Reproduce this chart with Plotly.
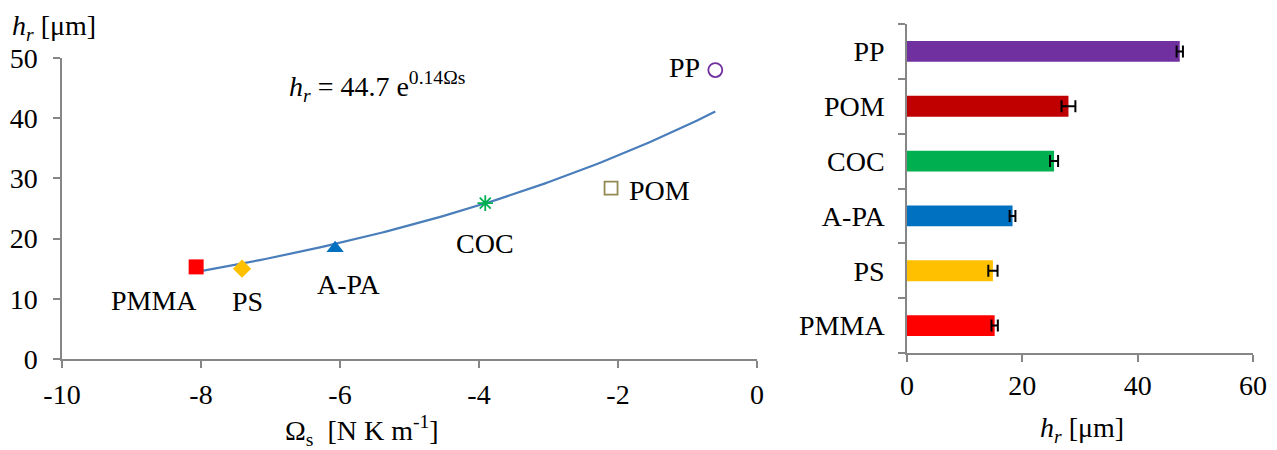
import numpy as np
import plotly.graph_objects as go

# ---------------- data ----------------
materials = ["PMMA", "PS", "A-PA", "COC", "POM", "PP"]
omega_s = [-8.07, -7.41, -6.07, -3.91, -2.10, -0.60]
h_r_points = [15.3, 15.0, 18.4, 25.9, 28.4, 48.0]

h_r_bars = [15.2, 14.9, 18.3, 25.5, 28.0, 47.3]
h_r_err = [0.55, 0.8, 0.5, 0.7, 1.2, 0.55]

bar_colors = ["#FF0000", "#FFC000", "#0070C0", "#00B050", "#C00000", "#7030A0"]
marker_symbols = ["square", "diamond", "triangle-up", "asterisk-open", "square-open", "circle-open"]
marker_colors = ["#FF0000", "#FFC000", "#0070C0", "#00B050", "#938953", "#7030A0"]
marker_sizes = [15, 14, 15, 13, 13, 14]
# label offsets from each point, in pixels (style only)
label_dx = [-42, 5, 14, 0, 48, -31]
label_dy = [-34, -33, -36, -40, -2, 3]

fit_a = 44.7
fit_b = 0.14
fit_x_start, fit_x_end = -8.1, -0.6

x_ticks_left = [-10, -8, -6, -4, -2, 0]
x_tick_labels_left = ["-10", "-8", "-6", "-4", "-2", "0"]
y_ticks_left = [0, 10, 20, 30, 40, 50]
x_ticks_right = [0, 20, 40, 60]

FONT = "Liberation Serif"
FS = 28
AXC = "#868686"
W, H = 1277, 450
OFF = 8  # page body offset of the plot div


def px(xp):
    return (xp - OFF) / W


def py(yp):
    return 1 - (yp - OFF) / H


fig = go.Figure()

# trendline from the displayed fit equation
fx = np.linspace(fit_x_start, fit_x_end, 120)
fy = fit_a * np.exp(fit_b * fx)
fig.add_trace(go.Scatter(x=fx, y=fy, mode="lines",
                         line=dict(color="#4A7EBB", width=2.2),
                         xaxis="x", yaxis="y", showlegend=False, hoverinfo="skip"))

annotations = []
for i, m in enumerate(materials):
    sym = marker_symbols[i]
    open_ = sym.endswith("open")
    fig.add_trace(go.Scatter(
        x=[omega_s[i]], y=[h_r_points[i]], mode="markers",
        marker=dict(symbol=sym, size=marker_sizes[i], color=marker_colors[i],
                    line=dict(color=marker_colors[i], width=1.8 if open_ else 0)),
        xaxis="x", yaxis="y", showlegend=False, cliponaxis=False))
    annotations.append(dict(text=m, x=omega_s[i], y=h_r_points[i], xref="x", yref="y",
                            xshift=label_dx[i], yshift=label_dy[i], showarrow=False,
                            xanchor="center", yanchor="middle",
                            font=dict(family=FONT, size=FS, color="black")))

fig.add_trace(go.Bar(
    y=materials, x=h_r_bars, orientation="h",
    marker=dict(color=bar_colors, line=dict(width=0)),
    error_x=dict(type="data", array=h_r_err, color="black", thickness=2, width=6),
    xaxis="x2", yaxis="y2", showlegend=False))

axis_common = dict(showline=True, linecolor=AXC, linewidth=1.5, ticks="outside",
                   tickcolor=AXC, ticklen=7, tickwidth=1.5, showgrid=False, zeroline=False,
                   automargin=False,
                   tickfont=dict(family=FONT, size=FS, color="black"))

annotations += [
    dict(text="<i>h<sub>r</sub></i> [μm]", xref="paper", yref="paper",
         x=px(10), y=py(28), xanchor="left", yanchor="middle", showarrow=False,
         font=dict(family=FONT, size=FS)),
    dict(text="<i>h<sub>r</sub></i> = 44.7 e<sup>0.14Ωs</sup>", xref="paper", yref="paper",
         x=px(287), y=py(86), xanchor="left", yanchor="middle", showarrow=False,
         font=dict(family=FONT, size=FS)),
    dict(text="Ω<sub>s</sub>  [N K m<sup>-1</sup>]", xref="paper", yref="paper",
         x=px(362), y=py(430), xanchor="center", yanchor="middle", showarrow=False,
         font=dict(family=FONT, size=FS)),
    dict(text="<i>h<sub>r</sub></i> [μm]", xref="paper", yref="paper",
         x=px(1082), y=py(429), xanchor="center", yanchor="middle", showarrow=False,
         font=dict(family=FONT, size=FS)),
]

fig.update_layout(
    template="none",
    width=W, height=H,
    margin=dict(l=0, r=0, t=0, b=0, autoexpand=False),
    paper_bgcolor="white", plot_bgcolor="white",
    font=dict(family=FONT, size=FS, color="black"),
    bargap=0.62,
    showlegend=False,
    xaxis=dict(domain=[px(62), px(757)], range=[-10, 0], tickmode="array",
               tickvals=x_ticks_left, ticktext=x_tick_labels_left,
               ticklabelstandoff=3, anchor="y", **axis_common),
    yaxis=dict(domain=[py(359), py(58)], range=[0, 50], tickmode="array",
               tickvals=y_ticks_left, ticklabelstandoff=10, anchor="x", **axis_common),
    xaxis2=dict(domain=[px(907), px(1253)], range=[0, 60], tickmode="array",
                tickvals=x_ticks_right, anchor="y2", **axis_common),
    yaxis2=dict(domain=[py(353), py(24)], anchor="x2",
                type="category", categoryorder="array", categoryarray=materials,
                tickson="boundaries", ticklabelstandoff=15, **axis_common),
    annotations=annotations,
)

fig.write_html("out.html")
